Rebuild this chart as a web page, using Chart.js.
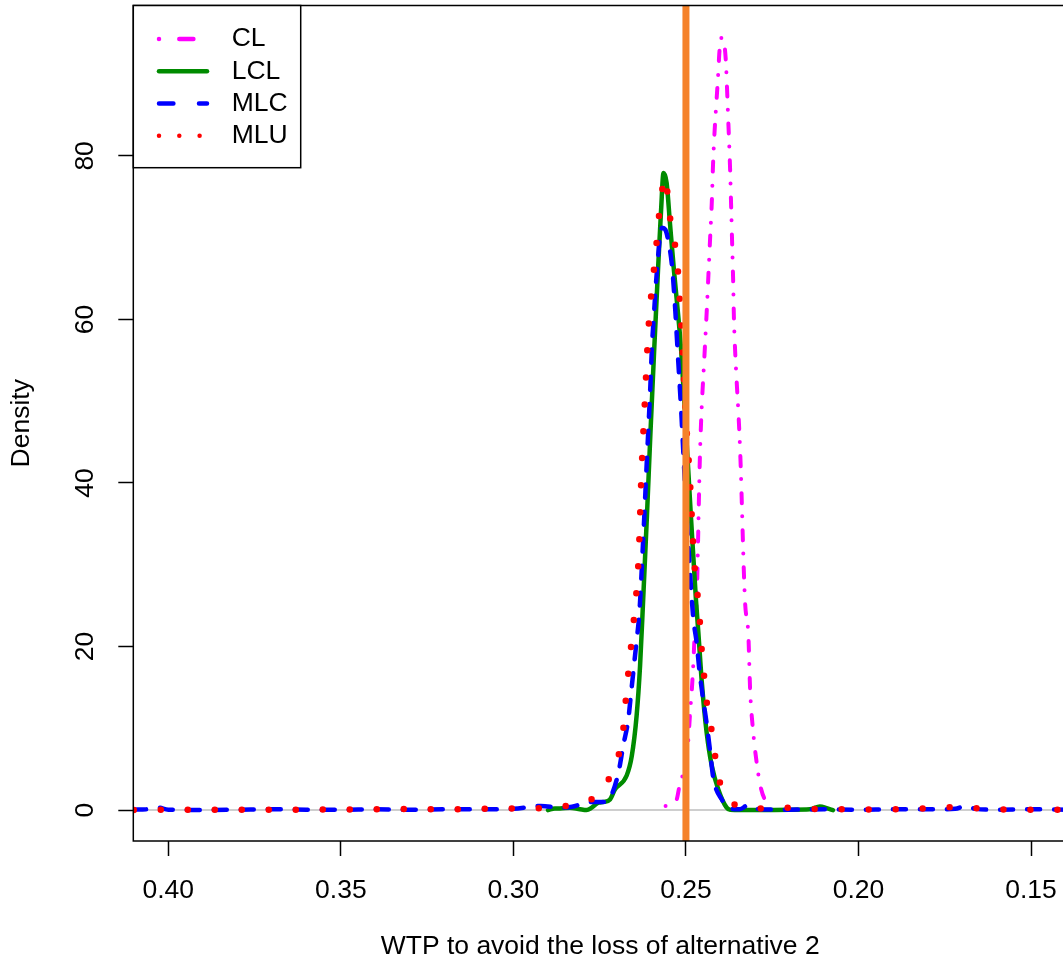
<!DOCTYPE html>
<html><head><meta charset="utf-8">
<script src="https://cdn.jsdelivr.net/npm/chart.js@4/dist/chart.umd.min.js"></script>
<style>
html,body{margin:0;padding:0;background:#fff;overflow:hidden;}
#wrap{position:absolute;left:0;top:0;width:1080px;height:974px;}
</style></head><body>
<div id="wrap"><canvas id="c"></canvas></div>
<script>
const seriesLabels = ['CL', 'LCL', 'MLC', 'MLU'];
const xTicks = [0.40, 0.35, 0.30, 0.25, 0.20, 0.15];
const yTicks = [0, 20, 40, 60, 80];
const xTitle = 'WTP to avoid the loss of alternative 2';
const yTitle = 'Density';
const refX = 0.25;

const xCL = [0.2559, 0.2527, 0.2519, 0.2503, 0.2493, 0.2488, 0.2483, 0.2479, 0.2474, 0.2469, 0.2459, 0.2445, 0.2440, 0.2435, 0.2430, 0.2425, 0.2421, 0.2406, 0.2403, 0.2396, 0.2385, 0.2378, 0.2372, 0.2369, 0.2366, 0.2363, 0.2361, 0.2359, 0.2343, 0.2329, 0.2319, 0.2314, 0.2305, 0.2295, 0.2285, 0.2271, 0.2256, 0.2250];
const yCL = [0.5, 1.3, 2.9, 5.4, 8.6, 11.9, 14.7, 17.6, 22.1, 25.7, 44.0, 56.7, 60.8, 65.3, 69.9, 74.4, 79.5, 90.4, 92.7, 94.5, 92.0, 85.0, 78.3, 73.8, 69.1, 64.4, 60.2, 57.7, 44.0, 25.7, 21.3, 14.7, 9.5, 5.8, 3.1, 1.3, 0.9, 0.6];

const xLCL = [0.2900, 0.2880, 0.2865, 0.2836, 0.2807, 0.2788, 0.2773, 0.2754, 0.2739, 0.2720, 0.2706, 0.2672, 0.2657, 0.2643, 0.2633, 0.2624, 0.2613, 0.2603, 0.2592, 0.2581, 0.2572, 0.2565, 0.2556, 0.2546, 0.2535, 0.2524, 0.2514, 0.2500, 0.2485, 0.2471, 0.2464, 0.2454, 0.2440, 0.2425, 0.2406, 0.2382, 0.2372, 0.2300, 0.2200, 0.2141, 0.2112, 0.2090, 0.2074];
const yLCL = [0.0, 0.2, 0.2, 0.3, 0.1, 0.0, 0.3, 0.9, 1.0, 1.3, 2.5, 4.2, 6.6, 11.5, 17.6, 25.7, 36.0, 46.0, 56.3, 66.0, 73.4, 77.9, 76.7, 71.6, 66.1, 61.2, 56.3, 46.5, 35.5, 25.7, 21.7, 15.6, 9.5, 5.4, 2.5, 0.3, 0.05, 0.0, 0.05, 0.1, 0.45, 0.2, 0.0];

const xMLC = [0.4102, 0.4060, 0.4030, 0.4000, 0.3900, 0.3800, 0.3700, 0.3600, 0.3500, 0.3400, 0.3300, 0.3200, 0.3100, 0.3000, 0.2920, 0.2865, 0.2830, 0.2798, 0.2769, 0.2740, 0.2720, 0.2696, 0.2682, 0.2667, 0.2659, 0.2651, 0.2643, 0.2635, 0.2624, 0.2613, 0.2604, 0.2598, 0.2593, 0.2588, 0.2582, 0.2575, 0.2569, 0.2560, 0.2551, 0.2540, 0.2534, 0.2529, 0.2525, 0.2514, 0.2503, 0.2491, 0.2479, 0.2469, 0.2461, 0.2451, 0.2440, 0.2430, 0.2421, 0.2396, 0.2372, 0.2344, 0.2320, 0.2286, 0.2200, 0.2100, 0.2000, 0.1900, 0.1800, 0.1720, 0.1690, 0.1660, 0.1600, 0.1500, 0.1396];
const yMLC = [0.05, 0.1, 0.3, 0.05, 0.02, 0.05, 0.1, 0.05, 0.05, 0.1, 0.05, 0.1, 0.1, 0.15, 0.5, 0.3, 0.4, 0.8, 1.0, 1.0, 1.5, 4.5, 7.8, 11.1, 14.3, 17.5, 20.7, 24.1, 33.0, 43.0, 51.0, 57.1, 60.4, 63.7, 67.0, 70.2, 71.2, 71.0, 69.6, 66.4, 63.1, 59.8, 56.8, 49.0, 40.0, 31.0, 23.6, 20.5, 17.1, 13.8, 10.6, 7.2, 4.0, 1.3, 0.2, 0.1, 0.6, 0.1, 0.05, 0.1, 0.05, 0.1, 0.1, 0.15, 0.5, 0.15, 0.05, 0.1, 0.05];

const xMLU = [0.4100, 0.4000, 0.3900, 0.3800, 0.3700, 0.3600, 0.3500, 0.3400, 0.3300, 0.3200, 0.3100, 0.3000, 0.2920, 0.2860, 0.2798, 0.2738, 0.2706, 0.2684, 0.2677, 0.2670, 0.2662, 0.2654, 0.2646, 0.2637, 0.2629, 0.2619, 0.2609, 0.2603, 0.2595, 0.2587, 0.2580, 0.2572, 0.2563, 0.2559, 0.2550, 0.2537, 0.2525, 0.2520, 0.2515, 0.2511, 0.2500, 0.2488, 0.2477, 0.2461, 0.2456, 0.2449, 0.2442, 0.2429, 0.2418, 0.2406, 0.2372, 0.2303, 0.2225, 0.2150, 0.2050, 0.1950, 0.1850, 0.1750, 0.1700, 0.1650, 0.1600, 0.1500, 0.1400];
const yMLU = [0.02, 0.05, 0.03, 0.04, 0.03, 0.05, 0.08, 0.1, 0.12, 0.1, 0.15, 0.2, 0.25, 0.45, 0.9, 2.65, 5.7, 8.9, 12.2, 15.5, 18.8, 22.1, 25.4, 31.0, 41.0, 50.0, 58.6, 61.9, 65.2, 68.5, 71.8, 75.1, 76.8, 77.4, 73.6, 70.3, 67.0, 63.7, 60.4, 57.1, 48.0, 40.0, 31.0, 23.9, 20.5, 17.2, 13.9, 10.7, 7.4, 4.1, 1.1, 0.17, 0.3, 0.15, 0.1, 0.08, 0.15, 0.3, 0.45, 0.2, 0.1, 0.05, 0.02];

const X_MIN = 0.13958, X_MAX = 0.41014, Y_MIN = -3.78, Y_MAX = 98.39;
const FONT = 'Liberation Sans, Arial, Helvetica, sans-serif';
const FS = 26.5;

const pts = (xs, ys) => xs.map((x, i) => ({x: x, y: ys[i]}));

const styles = {
  CL:  {color: '#FF00FF', width: 4,   dash: [0, 14, 10, 13], legendDash: [0, 20.3, 14.1, 40]},
  LCL: {color: '#008B00', width: 4.5, dash: [],              legendDash: []},
  MLC: {color: '#0000FF', width: 4.5, dash: [13, 14],        legendDash: [14.4, 25.6]},
  MLU: {color: '#FF0000', width: 6.5, dash: [0, 27],         legendDash: [0, 20.3]}
};
const seriesData = {CL: pts(xCL, yCL), LCL: pts(xLCL, yLCL), MLC: pts(xMLC, yMLC), MLU: pts(xMLU, yMLU)};
const orders = {CL: 4, LCL: 3, MLC: 2, MLU: 1};

const datasets = seriesLabels.map(name => ({
  label: name,
  data: seriesData[name],
  borderColor: styles[name].color,
  borderWidth: styles[name].width,
  borderDash: styles[name].dash,
  borderCapStyle: 'round',
  borderJoinStyle: 'round',
  pointRadius: 0,
  pointHitRadius: 0,
  showLine: true,
  fill: false,
  cubicInterpolationMode: 'monotone',
  order: orders[name]
}));
datasets.push({
  label: '_zero',
  data: [{x: X_MAX, y: 0}, {x: X_MIN, y: 0}],
  borderColor: '#BEBEBE', borderWidth: 1.5, pointRadius: 0, showLine: true, fill: false, order: 5
});
datasets.push({
  label: '_ref',
  data: [{x: refX, y: Y_MIN}, {x: refX, y: Y_MAX}],
  borderColor: '#F5822A', borderWidth: 7, borderCapStyle: 'butt', pointRadius: 0, showLine: true, fill: false, order: 0
});

const framePlugin = {
  id: 'rframe',
  afterDraw(chart) {
    const ctx = chart.ctx, a = chart.chartArea;
    ctx.save();
    ctx.setLineDash([]);
    ctx.strokeStyle = '#000';
    ctx.lineWidth = 1.5;
    ctx.strokeRect(a.left, a.top, a.right - a.left, a.bottom - a.top);
    const bx = a.left, by = a.top, bw = 167.4, bh = 162.2;
    ctx.fillStyle = '#fff';
    ctx.fillRect(bx, by, bw, bh);
    ctx.strokeRect(bx, by, bw, bh);
    ctx.font = FS + 'px ' + FONT;
    ctx.textBaseline = 'middle';
    ctx.textAlign = 'left';
    seriesLabels.forEach((name, i) => {
      const y = by + 33.5 + i * 32.25;
      const st = styles[name];
      ctx.strokeStyle = st.color;
      ctx.lineWidth = 4.5;
      ctx.lineCap = 'round';
      ctx.setLineDash(st.legendDash);
      ctx.beginPath();
      ctx.moveTo(bx + 25.7, y);
      ctx.lineTo(bx + 73.7, y);
      ctx.stroke();
      ctx.setLineDash([]);
      ctx.fillStyle = '#000';
      ctx.fillText(name, bx + 98.4, y);
    });
    ctx.restore();
  }
};

new Chart(document.getElementById('c'), {
  type: 'scatter',
  data: {datasets: datasets},
  plugins: [framePlugin],
  options: {
    responsive: true,
    maintainAspectRatio: false,
    animation: false,
    devicePixelRatio: 1,
    layout: {padding: {left: 0, top: 5.5, right: 13, bottom: 0}},
    plugins: {legend: {display: false}, tooltip: {enabled: false}},
    scales: {
      x: {
        type: 'linear', reverse: true, min: X_MIN, max: X_MAX,
        afterBuildTicks: s => { s.ticks = xTicks.map(v => ({value: v})); },
        afterFit: s => { s.height = 133; s.paddingLeft = 0; s.paddingRight = 0; },
        grid: {display: true, drawOnChartArea: false, drawTicks: true, tickLength: 15, tickWidth: 1.5, tickColor: '#000'},
        border: {display: false},
        ticks: {autoSkip: false, maxRotation: 0, minRotation: 0, padding: 19, color: '#000',
                font: {family: FONT, size: FS}, callback: v => Number(v).toFixed(2)},
        title: {display: true, text: xTitle, color: '#000', font: {family: FONT, size: FS}, padding: {top: 0, bottom: 11}}
      },
      y: {
        type: 'linear', min: Y_MIN, max: Y_MAX,
        afterBuildTicks: s => { s.ticks = yTicks.map(v => ({value: v})); },
        afterFit: s => { s.width = 133.3; s.paddingTop = 0; s.paddingBottom = 0; },
        grid: {display: true, drawOnChartArea: false, drawTicks: true, tickLength: 15, tickWidth: 1.5, tickColor: '#000'},
        border: {display: false},
        ticks: {minRotation: 90, maxRotation: 90, crossAlign: 'center', padding: 18, color: '#000',
                font: {family: FONT, size: FS}, callback: v => String(v)},
        title: {display: true, text: yTitle, color: '#000', font: {family: FONT, size: FS}, padding: {top: 6, bottom: 0}}
      }
    }
  }
});
</script>
</body></html>
